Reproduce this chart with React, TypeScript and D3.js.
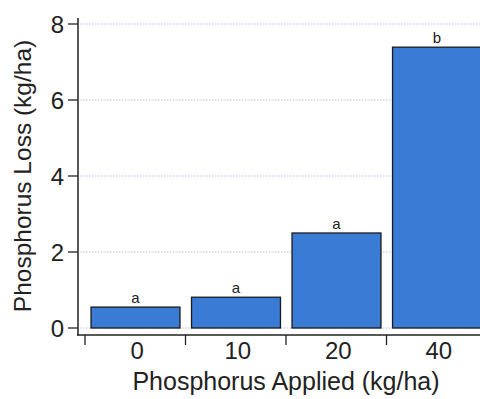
import React, { useRef, useEffect } from 'react';
import * as d3 from 'd3';

const rates = ['0', '10', '20', '40'];
const loss = [0.55, 0.81, 2.5, 7.39];
const letters = ['a', 'a', 'a', 'b'];
const yTicks = [0, 2, 4, 6, 8];

const W = 480;
const H = 399;

export default function App() {
  const ref = useRef<SVGSVGElement>(null);

  useEffect(() => {
    if (!ref.current) return;
    const svg = d3.select(ref.current);
    svg.selectAll('*').remove();

    const font = '"Liberation Sans", Arial, Helvetica, sans-serif';

    // scales
    const x = d3.scaleBand<string>().domain(rates).range([85, 487]).padding(0);
    const y = d3.scaleLinear().domain([0, 8]).range([328, 24]);
    const inset = x.bandwidth() * 0.06;
    const barW = x.bandwidth() * 0.885;

    // gridlines
    svg.append('g')
      .selectAll('line')
      .data(yTicks)
      .join('line')
      .attr('x1', 80)
      .attr('x2', W)
      .attr('y1', d => y(d))
      .attr('y2', d => y(d))
      .attr('stroke', '#b8bde0')
      .attr('stroke-width', 1)
      .attr('stroke-dasharray', '1.5,1.5');

    // bars
    svg.append('g')
      .selectAll('rect')
      .data(loss)
      .join('rect')
      .attr('x', (d, i) => x(rates[i])! + inset)
      .attr('y', d => y(d))
      .attr('width', barW)
      .attr('height', d => y(0) - y(d))
      .attr('fill', '#3a7bd5')
      .attr('stroke', '#1a1a1a')
      .attr('stroke-width', 1.3);

    // significance letters
    svg.append('g')
      .selectAll('text')
      .data(loss)
      .join('text')
      .attr('x', (d, i) => x(rates[i])! + inset + barW / 2)
      .attr('y', d => y(d) - 4)
      .attr('text-anchor', 'middle')
      .attr('font-family', font)
      .attr('font-size', 15)
      .attr('fill', '#222')
      .text((d, i) => letters[i]);

    // y axis
    const yAxis = svg.append('g').attr('transform', 'translate(78,0)');
    yAxis.append('line')
      .attr('x1', 0).attr('x2', 0)
      .attr('y1', 18).attr('y2', 335.5)
      .attr('stroke', '#222').attr('stroke-width', 1.5);
    const yt = yAxis.selectAll('g.tick').data(yTicks).join('g')
      .attr('class', 'tick')
      .attr('transform', d => `translate(0,${y(d)})`);
    yt.append('line').attr('x1', -10).attr('x2', 0).attr('stroke', '#222').attr('stroke-width', 1.3);
    yt.append('text')
      .attr('x', -14)
      .attr('dy', '0.36em')
      .attr('text-anchor', 'end')
      .attr('font-family', font)
      .attr('font-size', 24)
      .attr('fill', '#222')
      .text(d => String(d));

    // x axis
    const xAxis = svg.append('g').attr('transform', 'translate(0,335)');
    xAxis.append('line')
      .attr('x1', 77).attr('x2', W)
      .attr('stroke', '#222').attr('stroke-width', 1.5);
    xAxis.selectAll('line.tick').data(rates).join('line')
      .attr('class', 'tick')
      .attr('x1', d => x(d)!).attr('x2', d => x(d)!)
      .attr('y1', 0).attr('y2', 10)
      .attr('stroke', '#222').attr('stroke-width', 1.3);
    xAxis.selectAll('text').data(rates).join('text')
      .attr('x', d => x(d)! + x.bandwidth() / 2 + 2)
      .attr('y', 24)
      .attr('text-anchor', 'middle')
      .attr('font-family', font)
      .attr('font-size', 24)
      .attr('fill', '#222')
      .text(d => d);

    // titles
    svg.append('text')
      .attr('x', 286)
      .attr('y', 390)
      .attr('text-anchor', 'middle')
      .attr('font-family', font)
      .attr('font-size', 25)
      .attr('fill', '#222')
      .text('Phosphorus Applied (kg/ha)');

    svg.append('text')
      .attr('transform', 'translate(31,176) rotate(-90)')
      .attr('text-anchor', 'middle')
      .attr('font-family', font)
      .attr('font-size', 24.5)
      .attr('fill', '#222')
      .text('Phosphorus Loss (kg/ha)');
  }, []);

  return (
    <svg
      ref={ref}
      width={W}
      height={H}
      style={{ position: 'absolute', left: 0, top: 0, background: '#fff' }}
    />
  );
}
